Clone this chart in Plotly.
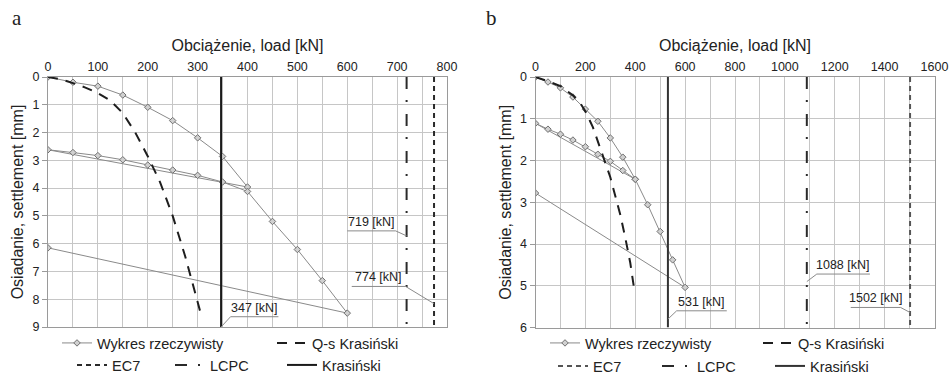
import plotly.graph_objects as go

# ---------------- data : panel a ----------------
load_a = [0, 50, 100, 150, 200, 250, 300, 350, 400,
          0, 50, 100, 150, 200, 250, 300, 350, 400,
          450, 500, 550, 600, 0]
settle_a = [0, 0.19, 0.33, 0.65, 1.09, 1.57, 2.19, 2.86, 3.96,
            2.62, 2.72, 2.83, 2.98, 3.17, 3.35, 3.54, 3.78, 4.12,
            5.20, 6.21, 7.33, 8.50, 6.15]
qs_load_a = [0, 25, 50, 75, 100, 125, 150, 175, 200, 225, 250, 275, 300, 306]
qs_settle_a = [0, 0.08, 0.22, 0.38, 0.58, 0.85, 1.30, 2.00, 2.85, 3.80, 5.00, 6.45, 8.10, 8.50]
kras_a, lcpc_a, ec7_a = 347, 719, 774
ymax_a, xmax_a = 9, 800

# ---------------- data : panel b ----------------
load_b = [0, 50, 100, 150, 200, 250, 300, 350, 400,
          0, 50, 100, 150, 200, 250, 300, 350, 400,
          450, 500, 550, 600, 0]
settle_b = [0, 0.12, 0.26, 0.48, 0.77, 1.06, 1.46, 1.92, 2.45,
            1.11, 1.25, 1.37, 1.51, 1.67, 1.85, 2.02, 2.24, 2.45,
            3.06, 3.70, 4.38, 5.04, 2.78]
qs_load_b = [0, 50, 100, 150, 180, 200, 230, 260, 280, 300, 320, 340, 360, 380, 395]
qs_settle_b = [0, 0.10, 0.22, 0.44, 0.63, 0.82, 1.20, 1.72, 2.05, 2.40, 2.85, 3.30, 3.85, 4.45, 5.05]
kras_b, lcpc_b, ec7_b = 531, 1088, 1502
ymax_b, xmax_b = 6, 1600

names = ["Wykres rzeczywisty", "Q-s Krasiński", "EC7", "LCPC", "Krasiński"]

W, H = 951, 375
FONT = "Liberation Sans, Arial, sans-serif"
TXT = "#222222"
GRID = "#c6c6c6"
AXL = "#9a9a9a"

fig = go.Figure()

def px2x(px):
    return px / W

def px2y(py):
    return 1 - py / H

# legend rows: (legend left px, row centre px) per panel
leg_rows = {
    "a": [(57, 343), (272, 343), (72, 365), (170, 365), (282, 365)],
    "b": [(545, 343), (758, 343), (553, 366), (657, 366), (770, 366)],
}

def add_panel(tag, xa, ya, loads, settles, qsl, qss, kras, lcpc, ec7, ymax, lg0, krcol, eccol):
    legs = ["legend" if lg0 == 1 else f"legend{lg0}"] + [f"legend{lg0 + i}" for i in range(1, 5)]
    fig.add_trace(go.Scatter(
        x=loads, y=settles, mode="lines+markers", name=names[0],
        line=dict(color="#8a8a8a", width=1),
        marker=dict(symbol="diamond", size=5, color="#d0d0d0", line=dict(color="#707070", width=1)),
        xaxis=xa, yaxis=ya, legend=legs[0]))
    fig.add_trace(go.Scatter(
        x=qsl, y=qss, mode="lines", name=names[1],
        line=dict(color="#1e1e1e", width=2, dash="10px,8px"),
        xaxis=xa, yaxis=ya, legend=legs[1]))
    fig.add_trace(go.Scatter(
        x=[ec7, ec7], y=[0, ymax], mode="lines", name=names[2],
        line=dict(color=eccol, width=2, dash="5px,4px"),
        xaxis=xa, yaxis=ya, legend=legs[2]))
    fig.add_trace(go.Scatter(
        x=[lcpc, lcpc], y=[0, ymax], mode="lines", name=names[3],
        line=dict(color="#2a2a2a", width=2, dash="12px,11px,2px,12px"),
        xaxis=xa, yaxis=ya, legend=legs[3]))
    fig.add_trace(go.Scatter(
        x=[kras, kras], y=[0, ymax], mode="lines", name=names[4],
        line=dict(color=krcol, width=2),
        xaxis=xa, yaxis=ya, legend=legs[4]))
    for i, (lx, ly) in enumerate(leg_rows[tag]):
        key = "legend" if (lg0 + i) == 1 else f"legend{lg0 + i}"
        fig.layout[key] = dict(
            x=px2x(lx), y=px2y(ly), xanchor="left", yanchor="middle",
            orientation="h", bgcolor="rgba(0,0,0,0)", borderwidth=0,
            font=dict(family=FONT, size=14.5, color=TXT))

add_panel("a", "x", "y", load_a, settle_a, qs_load_a, qs_settle_a,
          kras_a, lcpc_a, ec7_a, ymax_a, 1, "#1a1a1a", "#2a2a2a")
add_panel("b", "x2", "y2", load_b, settle_b, qs_load_b, qs_settle_b,
          kras_b, lcpc_b, ec7_b, ymax_b, 6, "#333333", "#555555")

# leader-line callouts: (value, underline x0, x1, underline y, end y on vertical line, side)
callouts = [
    ("x", "y", kras_a, 366, 462, 8.63, 9.0, "left"),
    ("x", "y", lcpc_a, 600, 697, 5.54, 5.72, "right"),
    ("x", "y", ec7_a, 609, 717, 7.54, 8.16, "right"),
    ("x2", "y2", kras_b, 566, 767, 5.60, 5.80, "left"),
    ("x2", "y2", lcpc_b, 1128, 1341, 4.72, 4.90, "left"),
    ("x2", "y2", ec7_b, 1264, 1464, 5.52, 5.64, "right"),
]
for xr, yr, val, x0, x1, yu, ye, side in callouts:
    fig.add_shape(type="line", xref=xr, yref=yr, x0=x0, x1=x1, y0=yu, y1=yu,
                  line=dict(color="#8a8a8a", width=1))
    xs = x0 if side == "left" else x1
    fig.add_shape(type="line", xref=xr, yref=yr, x0=xs, x1=val, y0=yu, y1=ye,
                  line=dict(color="#8a8a8a", width=1))
    fig.add_annotation(xref=xr, yref=yr, x=(x0 + x1) / 2, y=yu, yanchor="bottom",
                       xanchor="center", showarrow=False, yshift=0,
                       text=f"{val} [kN]", font=dict(family=FONT, size=12.5, color=TXT))

# panel letters
fig.add_annotation(xref="paper", yref="paper", x=px2x(10), y=px2y(18), xanchor="left",
                   yanchor="middle", showarrow=False, text="a",
                   font=dict(family="Liberation Serif, Times New Roman, serif", size=21, color=TXT))
fig.add_annotation(xref="paper", yref="paper", x=px2x(484), y=px2y(18), xanchor="left",
                   yanchor="middle", showarrow=False, text="b",
                   font=dict(family="Liberation Serif, Times New Roman, serif", size=21, color=TXT))

xcommon = dict(side="top", showline=True, linecolor=AXL, mirror=True, showgrid=True,
               gridcolor=GRID, gridwidth=1, zeroline=False, ticks="",
               tickfont=dict(family=FONT, size=12.5, color=TXT), automargin=False,
               title=dict(text="Obciążenie, load [kN]", font=dict(family=FONT, size=16, color=TXT), standoff=4))
ycommon = dict(autorange=False, showline=True, linecolor=AXL, mirror=True, showgrid=True,
               gridcolor=GRID, gridwidth=1, zeroline=False, ticks="outside", ticklen=5,
               tickcolor=AXL, dtick=1, automargin=False,
               tickfont=dict(family=FONT, size=12.5, color=TXT),
               title=dict(text="Osiadanie, settlement [mm]", font=dict(family=FONT, size=16, color=TXT), standoff=4))

fig.update_layout(
    width=W, height=H, margin=dict(l=0, r=0, t=0, b=0, autoexpand=False),
    paper_bgcolor="white", plot_bgcolor="white", showlegend=True,
    xaxis=dict(xcommon, domain=[px2x(48), px2x(447)], range=[0, xmax_a], dtick=100, anchor="y",
               minor=dict(dtick=50, showgrid=True, gridcolor=GRID)),
    yaxis=dict(ycommon, domain=[px2y(327), px2y(77)], range=[ymax_a, 0], anchor="x"),
    xaxis2=dict(xcommon, domain=[px2x(535.5), px2x(934.5)], range=[0, xmax_b], dtick=200, anchor="y2",
                minor=dict(dtick=100, showgrid=True, gridcolor=GRID)),
    yaxis2=dict(ycommon, domain=[px2y(327.5), px2y(77)], range=[ymax_b, 0], anchor="x2"),
)

fig.write_html("out.html")
